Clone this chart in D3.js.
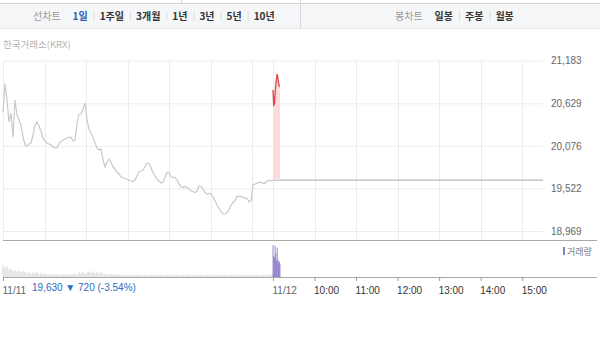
<!DOCTYPE html>
<html>
<head>
<meta charset="utf-8">
<script src="https://cdn.jsdelivr.net/npm/d3@7"></script>
<style>
  body { margin: 0; background: #fff; }
  svg { display: block; }
  text { font-family: "Liberation Sans", Arial, sans-serif; }
  .kr { font-family: "Noto Sans CJK KR", sans-serif; }
</style>
</head>
<body>
<svg id="chart" width="600" height="343"></svg>
<script>
// price axis ticks
let yTicks = [18969, 19522, 20076, 20629, 21183];
let prevClose = 19630;

// 11/11 session, evenly spaced through 09:00-15:30
let day1Prices = [
  20516, 20880, 20672, 20386, 20503, 20191, 20672, 20477, 20412, 20347,
  20191, 20087, 20074, 20100, 20113, 20217, 20347, 20386, 20334, 20269,
  20178, 20139, 20113, 20100, 20087, 20061, 20048, 20048, 20100, 20130,
  20152, 20165, 20178, 20185, 20185, 20139, 20152, 20360, 20490, 20490,
  20555, 20633, 20412, 20295, 20243, 20191, 20113, 20048, 20022, 20035,
  19892, 19801, 19866, 19905, 19866, 19801, 19775, 19736, 19710, 19671,
  19665, 19652, 19639, 19632, 19619, 19610, 19632, 19684, 19743, 19749,
  19762, 19808, 19853, 19847, 19788, 19730, 19684, 19645, 19619, 19593,
  19600, 19665, 19730, 19730, 19678, 19665, 19665, 19632, 19580, 19548,
  19535, 19548, 19535, 19515, 19489, 19483, 19470, 19483, 19548, 19548,
  19515, 19470, 19450, 19459, 19450, 19418, 19362, 19307, 19264, 19220,
  19190, 19190, 19210, 19242, 19307, 19340, 19362, 19418, 19418, 19418,
  19405, 19394, 19394, 19350, 19362, 19567, 19580, 19589, 19600, 19600,
  19589, 19589, 19619, 19623, 19623, 19630
];
let day1Volume = [
  35, 28, 30, 22, 25, 18, 20, 16, 19, 14, 17, 15,
  12, 14, 10, 13, 11, 15, 9, 12,
  8, 10, 7, 9, 6, 8, 7, 9, 6, 7,
  7, 6, 8, 6, 9, 7, 10, 8,
  14, 11, 16, 10, 13, 15, 12, 17, 11, 14, 12, 16, 10, 9,
  8, 7, 9, 6, 7, 6, 8, 6, 7, 5, 6, 7, 5, 6, 5, 7, 6, 5,
  5, 6, 4, 5, 7, 5, 6, 4, 5, 6, 5, 4, 6, 5, 7, 4, 5, 6, 5, 4,
  6, 5, 5, 7, 4, 6, 5, 4, 5, 6, 4, 5, 6, 5, 4, 7, 5, 6, 4, 5,
  5, 6, 4, 5, 6, 5, 7, 4, 5, 6, 4, 5, 5, 6, 4, 6, 5, 7, 5, 4,
  6, 5, 6, 8, 7, 9
];

// 11/12 session, minute by minute from 09:00
let day2Minutes = [0, 1, 2, 3, 4, 5, 6, 7, 8, 9, 10];
let day2Prices = [20802, 20607, 20620, 20750, 20880, 20945, 21010, 20958, 20893, 20854, 20854];
let day2Volume = [94, 62, 58, 92, 70, 48, 86, 52, 44, 46, 38];

// x axis: minutes over both sessions (390 per session)
let gridMinutes = [0, 60, 120, 180, 240, 300, 360, 390, 450, 510, 570, 630, 690, 750];
let timeTicks = [390, 450, 510, 570, 630, 690, 750];
let timeLabels = ["11/12", "10:00", "11:00", "12:00", "13:00", "14:00", "15:00"];

let leftTabs = ["1일", "1주일", "3개월", "1년", "3년", "5년", "10년"];
let rightTabs = ["일봉", "주봉", "월봉"];

let svg = d3.select("#chart");

// ---- toolbar ----
svg.append("rect").attr("x", 0).attr("y", 3).attr("width", 600).attr("height", 25)
  .attr("fill", "#f5f6f8");
svg.append("line").attr("x1", 0).attr("x2", 600).attr("y1", 3.5).attr("y2", 3.5)
  .attr("stroke", "#cfd2d6");
svg.append("line").attr("x1", 0).attr("x2", 600).attr("y1", 28.5).attr("y2", 28.5)
  .attr("stroke", "#e6e8eb");
svg.append("line").attr("x1", 181.5).attr("x2", 181.5).attr("y1", 0).attr("y2", 3)
  .attr("stroke", "#cfd2d6");
svg.append("line").attr("x1", 300.5).attr("x2", 300.5).attr("y1", 0).attr("y2", 28)
  .attr("stroke", "#d6d8db");

function tabRow(label, tabs, x0, active){
  let t = svg.append("text").attr("class", "kr").attr("x", x0).attr("y", 20)
    .attr("font-size", 10).attr("fill", "#999").text(label);
  let x = x0 + t.node().getComputedTextLength() + 12;
  tabs.forEach(function(d, i){
    if(i > 0){
      svg.append("line").attr("x1", x + 0.5).attr("x2", x + 0.5)
        .attr("y1", 11).attr("y2", 21).attr("stroke", "#dcdde0");
      x += 6;
    }
    let s = svg.append("text").attr("class", "kr").attr("x", x).attr("y", 20)
      .attr("font-size", 10).attr("font-weight", "bold")
      .attr("fill", i === active ? "#2c5db5" : "#333").text(d);
    x += s.node().getComputedTextLength() + 6;
  });
}
tabRow("선차트", leftTabs, 33, 0);
tabRow("봉차트", rightTabs, 395, -1);

svg.append("text").attr("class", "kr").attr("x", 3).attr("y", 48)
  .attr("font-size", 9.5).attr("fill", "#b4b4b4").text("한국거래소(KRX)");

// ---- scales ----
let x = d3.scaleLinear().domain([0, 780]).range([3, 543]);
let y = d3.scaleLinear().domain([18969, 21183]).range([231, 60.7]);
let yVol = d3.scaleLinear().domain([0, 100]).range([277, 243]);

let day1Step = 390 / (day1Prices.length - 1);
let day1 = day1Prices.map(function(d, i){ return {t: i * day1Step, p: d, v: day1Volume[i]}; });
let day2 = day2Prices.map(function(d, i){ return {t: 390 + day2Minutes[i], p: d, v: day2Volume[i]}; });

// ---- grid ----
svg.append("g")
  .attr("transform", "translate(543,0)")
  .call(d3.axisLeft(y).tickValues(yTicks).tickSize(540).tickFormat(""))
  .call(function(g){ g.select(".domain").remove(); })
  .selectAll("line").attr("stroke", "#ececec");

svg.append("g")
  .selectAll("line")
  .data(gridMinutes)
  .enter()
  .append("line")
    .attr("x1", function(d){ return Math.round(x(d)) + 0.5; })
    .attr("x2", function(d){ return Math.round(x(d)) + 0.5; })
    .attr("y1", y(21183)).attr("y2", 240)
    .attr("stroke", "#ececec");

// y labels
svg.append("g")
  .attr("transform", "translate(543,0)")
  .call(d3.axisRight(y).tickValues(yTicks).tickSize(0).tickPadding(8)
        .tickFormat(d3.format(",")))
  .call(function(g){ g.select(".domain").remove(); })
  .selectAll("text")
    .attr("font-size", 10).attr("fill", "#666")
    .style("font-family", "'Liberation Sans', Arial, sans-serif");

// ---- prev close line + today fill ----
svg.append("line")
  .attr("x1", x(390)).attr("x2", 543)
  .attr("y1", y(prevClose)).attr("y2", y(prevClose))
  .attr("stroke", "#b8b8b8").attr("stroke-width", 1.4);

svg.append("path")
  .datum(day2)
  .attr("fill", "#fadcdc")
  .attr("d", d3.area()
    .x(function(d){ return x(d.t); })
    .y0(y(prevClose))
    .y1(function(d){ return y(d.p); }));

let line = d3.line()
  .x(function(d){ return x(d.t); })
  .y(function(d){ return y(d.p); });

svg.append("path").datum(day1)
  .attr("fill", "none").attr("stroke", "#c9c9c9").attr("stroke-width", 1.2)
  .attr("d", line);

svg.append("path").datum(day2)
  .attr("fill", "none").attr("stroke", "#e04a4a").attr("stroke-width", 1.4)
  .attr("d", line);

// ---- volume ----
svg.append("line").attr("x1", 3).attr("x2", 597).attr("y1", 240.5).attr("y2", 240.5)
  .attr("stroke", "#a9a9a9").attr("stroke-width", 1.2);

svg.append("g").selectAll("rect")
  .data(day1)
  .enter()
  .append("rect")
    .attr("x", function(d){ return x(d.t) - 0.5; })
    .attr("y", function(d){ return yVol(d.v); })
    .attr("width", 1)
    .attr("height", function(d){ return 277 - yVol(d.v); })
    .attr("fill", "#cfcfcf");

svg.append("g").selectAll("rect")
  .data(day2)
  .enter()
  .append("rect")
    .attr("x", function(d){ return x(d.t) - 0.4; })
    .attr("y", function(d){ return yVol(d.v); })
    .attr("width", 0.9)
    .attr("height", function(d){ return 277 - yVol(d.v); })
    .attr("fill", "#8f7cc8");

svg.append("rect").attr("x", 563).attr("y", 247).attr("width", 2).attr("height", 8)
  .attr("fill", "#8f7cc8");
svg.append("text").attr("class", "kr").attr("x", 567).attr("y", 255)
  .attr("font-size", 9).attr("fill", "#777").text("거래량");

// ---- time axis ----
svg.append("line").attr("x1", 3).attr("x2", 597).attr("y1", 277.5).attr("y2", 277.5)
  .attr("stroke", "#a9a9a9").attr("stroke-width", 1.2);

let xAxis = svg.append("g")
  .attr("transform", "translate(0,277)")
  .call(d3.axisBottom(x).tickValues([0].concat(timeTicks)).tickSize(4).tickPadding(6)
        .tickFormat(function(d){ return d === 0 ? "11/11" : timeLabels[timeTicks.indexOf(d)]; }));
xAxis.select(".domain").remove();
xAxis.selectAll("line").attr("stroke", "#999");
xAxis.selectAll("text")
  .attr("text-anchor", "start").attr("dx", -1)
  .attr("font-size", 10)
  .attr("fill", function(d){ return d === 0 || d === 390 ? "#666" : "#333"; })
  .style("font-family", "'Liberation Sans', Arial, sans-serif");

svg.append("text").attr("x", 32).attr("y", 291).attr("font-size", 10).attr("fill", "#2d6bc4")
  .text("19,630 ▼ 720 (-3.54%)");
</script>
</body>
</html>
